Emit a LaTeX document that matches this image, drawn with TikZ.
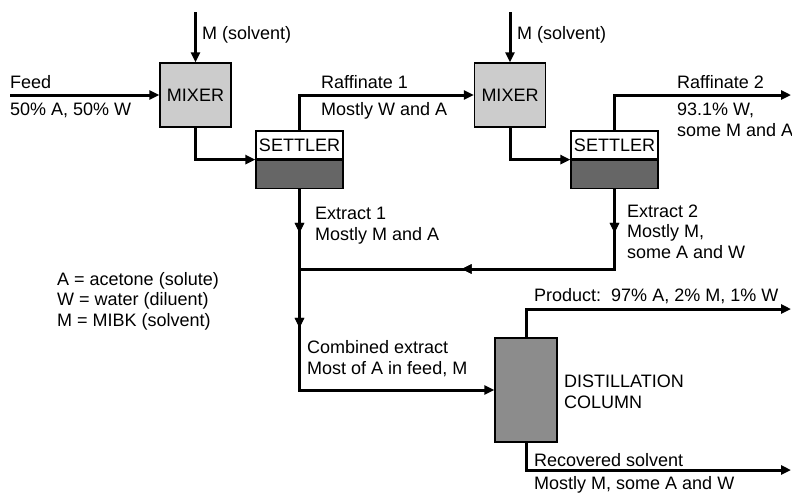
\documentclass[tikz,border=0pt]{standalone}
\usepackage{fontspec}
\setmainfont{Liberation Sans}
\usetikzlibrary{positioning}
\usetikzlibrary{arrows.meta}
\usetikzlibrary{decorations.markings}
\definecolor{mixgray}{rgb}{0.80, 0.80, 0.80}
\definecolor{heavygray}{rgb}{0.40, 0.40, 0.40}
\definecolor{colgray}{rgb}{0.55, 0.55, 0.55}
\tikzset{unit/.style = {draw, line width = 1.2, inner sep = 0, font = \fontsize{18}{20}\selectfont}}
\tikzset{mixer/.style = {unit, fill = mixgray, minimum width = 71, minimum height = 64}}
\tikzset{settop/.style = {unit, fill = white, minimum width = 87, minimum height = 28}}
\tikzset{setbot/.style = {unit, fill = heavygray, minimum width = 87, minimum height = 28}}
\tikzset{pipe/.style = {line width = 3}}
\tikzset{flow/.style = {pipe, -{Triangle[length = 10pt, width = 9pt]}}}
\tikzset{lab/.style = {anchor = base west, inner sep = 0, align = left, font = \fontsize{18}{20.5}\selectfont}}
\tikzset{midtip/.style = {decoration = {markings, mark = at position #1 with {\arrow{Triangle[length = 10pt, width = 9pt]}}}, postaction = {decorate}}}

\begin{document}
\begin{tikzpicture}[x = 1pt, y = -1pt]
  \useasboundingbox (0, 0) rectangle (792, 493);
  % units
  \node [mixer] (mixer1) at (195.5, 95) {MIXER};
  \node [mixer] (mixer2) at (510, 95) {MIXER};
  \node [settop] (settler1) at (299.5, 145) {SETTLER};
  \node [setbot, below = 0 of settler1] (settler1b) {};
  \node [settop] (settler2) at (614.5, 145) {SETTLER};
  \node [setbot, below = 0 of settler2] (settler2b) {};
  \node [unit, fill = colgray, minimum width = 62, minimum height = 104] (column) at (526, 390) {};
  % free ends
  \coordinate (solv1) at (195.5, 12);
  \coordinate (solv2) at (510, 12);
  \coordinate (feed) at (10, 95);
  \coordinate (raf2) at (791, 95);
  \coordinate (join) at (299.5, 269);
  \coordinate (bend) at (299.5, 390);
  \coordinate (prod) at (791, 309);
  \coordinate (rec) at (791, 470);
  % streams
  \draw [flow] (solv1) -- (mixer1.north);
  \draw [flow] (solv2) -- (mixer2.north);
  \draw [flow] (feed) -- (mixer1.west);
  \draw [flow] (mixer1.south) |- (settler1.south west);
  \draw [flow] (mixer2.south) |- (settler2.south west);
  \draw [flow] (settler1.north) |- (mixer2.west);
  \draw [flow] (settler2.north) |- (raf2);
  \draw [flow, midtip = 44pt, midtip = 139pt] (settler1b.south) -- (join) -- (bend) -- (column.west);
  \draw [pipe, midtip = 44pt, midtip = 233pt] (settler2b.south) -- (settler2b.south |- join) -- (join);
  \draw [flow] (column.north) |- (prod);
  \draw [flow] (column.south) |- (rec);
  % labels (multi-line ones sit on their last line)
  \node [lab] (feedname) at (10, 88) {Feed};
  \node [lab] (feedcomp) at (10, 115) {50\% A, 50\% W};
  \node [lab] (solvname1) at (202, 39) {M (solvent)};
  \node [lab] (solvname2) at (517, 39) {M (solvent)};
  \node [lab] (rafname1) at (321, 88) {Raffinate 1};
  \node [lab] (rafcomp1) at (321, 115) {Mostly W and A};
  \node [lab] (rafname2) at (677, 88) {Raffinate 2};
  \node [lab] (rafcomp2) at (677, 136) {93.1\% W,\\some M and A};
  \node [lab] (ext1) at (315, 240) {Extract 1\\Mostly M and A};
  \node [lab] (ext2) at (627, 258) {Extract 2\\Mostly M,\\some A and W};
  \node [lab] (legend) at (57, 326) {A = acetone (solute)\\W = water (diluent)\\M = MIBK (solvent)};
  \node [lab] (combined) at (307, 374) {Combined extract\\Most of A in feed, M};
  \node [lab] (product) at (534, 301) {Product:\ \ 97\% A, 2\% M, 1\% W};
  \node [lab] (colname) at (564, 408) {DISTILLATION\\COLUMN};
  \node [lab] (recname) at (534, 466) {Recovered solvent};
  \node [lab] (reccomp) at (534, 489) {Mostly M, some A and W};
\end{tikzpicture}
\end{document}
